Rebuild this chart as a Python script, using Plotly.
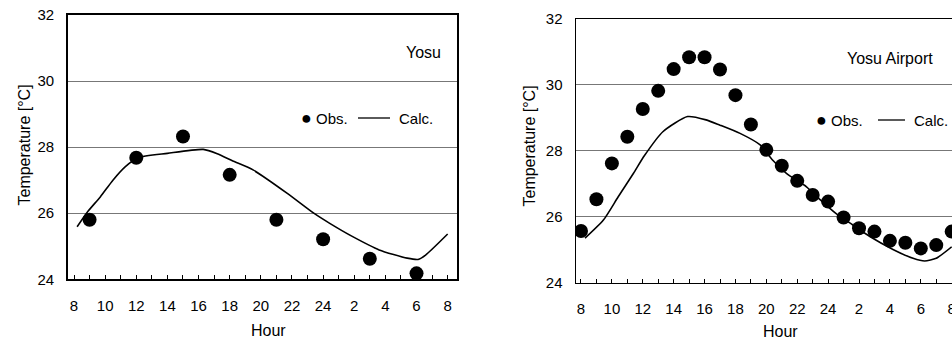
import plotly.graph_objects as go

# Remove the default 8px page margin so the figure fills the window exactly.
OFF = 0
W, H = 952, 340

# ---------------- data ----------------
tick_hours = list(range(8, 33))
tick_text = [str(h % 24 if h % 24 != 0 else 24) if h % 2 == 0 else "" for h in tick_hours]
y_ticks = [24, 26, 28, 30, 32]

# Yosu
yosu_obs_h = [9, 12, 15, 18, 21, 24, 27, 30]
yosu_obs_t = [25.8, 27.68, 28.32, 27.16, 25.8, 25.21, 24.62, 24.18]
yosu_calc_h = [8.2, 8.85, 9.7, 10.5, 11.3, 12.1, 14.0, 16.3, 17.2, 18.2, 19.5, 21.7,
               23.4, 24.4, 25.9, 27.6, 29.4, 30.1, 30.6, 32.0]
yosu_calc_t = [25.59, 26.03, 26.5, 27.0, 27.41, 27.68, 27.81, 27.93, 27.8, 27.58, 27.31, 26.6,
               26.0, 25.7, 25.29, 24.89, 24.64, 24.6, 24.74, 25.37]

# Yosu Airport
air_obs_h = list(range(8, 33))
air_obs_t = [25.57, 26.53, 27.62, 28.43, 29.27, 29.82, 30.48, 30.84, 30.84, 30.47, 29.69, 28.8,
             28.03, 27.55, 27.09, 26.66, 26.46, 25.98, 25.65, 25.55, 25.27, 25.21, 25.04, 25.14, 25.55]
air_calc_h = [8.26, 9.45, 10.4, 11.4, 12.1, 13.3, 14.9, 16.1, 17.0, 18.3, 19.6, 20.4, 21.3,
              22.6, 23.5, 24.5, 25.6, 26.7, 28.2, 29.5, 30.25, 31.0, 32.0]
air_calc_t = [25.35, 25.9, 26.6, 27.32, 27.85, 28.58, 29.04, 28.94, 28.78, 28.53, 28.18, 27.72, 27.32,
              26.91, 26.51, 26.1, 25.75, 25.4, 25.01, 24.74, 24.66, 24.74, 25.09]

FONT = "Arial, 'Liberation Sans', Helvetica, sans-serif"

def px(x):
    return (x - OFF) / W

def py(y):
    return 1 - (y - OFF) / H

fig = go.Figure()

line_style = dict(color="black", width=1.6, shape="spline", smoothing=0.6)
marker_style = dict(color="black", size=14, symbol="circle")

fig.add_trace(go.Scatter(x=yosu_calc_h, y=yosu_calc_t, mode="lines", line=line_style,
                         name="Calc.", xaxis="x", yaxis="y", showlegend=False))
fig.add_trace(go.Scatter(x=yosu_obs_h, y=yosu_obs_t, mode="markers", marker=marker_style,
                         name="Obs.", xaxis="x", yaxis="y", showlegend=False))
fig.add_trace(go.Scatter(x=air_calc_h, y=air_calc_t, mode="lines", line=line_style,
                         name="Calc.", xaxis="x2", yaxis="y2", showlegend=False))
fig.add_trace(go.Scatter(x=air_obs_h, y=air_obs_t, mode="markers", marker=marker_style,
                         name="Obs.", xaxis="x2", yaxis="y2", showlegend=False))

xcommon = dict(tickvals=tick_hours, ticktext=tick_text, ticks="inside", ticklen=4, tickwidth=1,
               tickcolor="black", showline=True, linecolor="black", linewidth=1.5,
               showgrid=False, zeroline=False, automargin=False, ticklabeloverflow="allow",
               tickfont=dict(size=15, color="black", family=FONT), ticklabelstandoff=12)
ycommon = dict(tickvals=y_ticks, range=[24, 32], ticks="", showline=True, linecolor="black",
               linewidth=1.5, showgrid=True, gridcolor="#777", gridwidth=1, zeroline=False,
               automargin=False, ticklabeloverflow="allow",
               tickfont=dict(size=15, color="black", family=FONT), ticklabelstandoff=9)

fig.update_layout(
    width=W, height=H,
    margin=dict(l=0, r=0, t=0, b=0, autoexpand=False),
    paper_bgcolor="white", plot_bgcolor="white",
    font=dict(family=FONT, color="black"),
    xaxis=dict(domain=[px(67.7), px(457)], range=[7.595, 32.6], anchor="y", mirror=True, **xcommon),
    yaxis=dict(domain=[py(279.3), py(14.9)], anchor="x", mirror=True, **ycommon),
    xaxis2=dict(domain=[px(576), 1.0], range=[7.677, 32.02], anchor="y2", mirror=True, **xcommon),
    yaxis2=dict(domain=[py(282.7), py(19)], anchor="x2", mirror=False, **ycommon),
)

ann = []
def text(x, y, s, size=15, xanchor="center", angle=0):
    ann.append(dict(x=px(x), y=py(y), xref="paper", yref="paper", text=s, showarrow=False,
                    xanchor=xanchor, yanchor="middle", textangle=angle,
                    font=dict(size=size, color="black", family=FONT)))

text(24, 145.5, "Temperature [°C]", size=16, angle=-90)
text(529, 146.5, "Temperature [°C]", size=16, angle=-90)
text(268, 330, "Hour", size=16)
text(780, 331, "Hour", size=16)
text(423, 52, "Yosu", size=16)
text(890, 58, "Yosu Airport", size=16)

# legend entries
text(306.7, 118, "●", size=18)
text(314, 118, "Obs.", size=15, xanchor="left")
text(397, 118, "Calc.", size=15, xanchor="left")
text(821, 120, "●", size=18)
text(829, 120, "Obs.", size=15, xanchor="left")
text(912, 120, "Calc.", size=15, xanchor="left")
fig.update_layout(annotations=ann)

shapes = [
    dict(type="line", xref="paper", yref="paper", x0=px(358), x1=px(390), y0=py(118), y1=py(118),
         line=dict(color="black", width=1.3)),
    dict(type="line", xref="paper", yref="paper", x0=px(878), x1=px(905), y0=py(120), y1=py(120),
         line=dict(color="black", width=1.3)),
]
fig.update_layout(shapes=shapes)

fig.write_html("out.html",
               config={"displayModeBar": False, "staticPlot": True},
               post_script="document.body.style.margin='0px';document.body.style.overflow='hidden';")
